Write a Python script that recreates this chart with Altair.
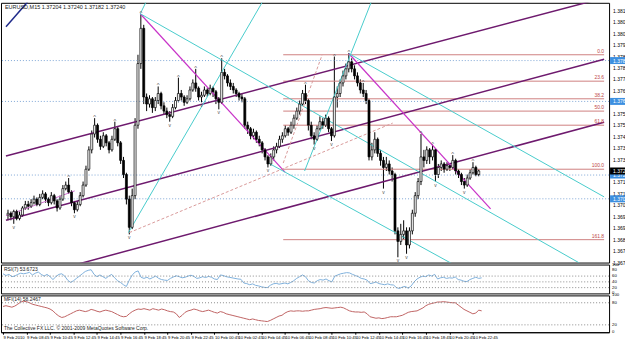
import json
import altair as alt
import pandas as pd
import numpy as np

# ---------------- data (prices in pips above BASE) ----------------
BASE = 1.3670

opens = [29,30,28,31,27,29,33,35,34,36, 38,35,39,41,38,36,40,37,33,38,
         44,46,42,36,32,35,40,46,55,66, 75,80,72,68,74,70,66,72,78,70,
         60,52,38,22,40,80,115,135,96,92, 95,90,94,98,91,88,86,85,90,94,
         98,96,93,95,100,104,101,96,97,100, 98,101,99,95,93,110,108,104,102,100,
         98,96,95,80,78,74,76,72,70,66, 62,58,62,66,68,72,74,78,76,80,
         84,88,92,98,94,80,74,72,78,82, 80,84,78,74,96,98,104,108,112,116,
         112,108,104,100,98,94,62,66,72,64, 60,56,58,54,52,20,14,18,20,12,
         20,30,40,48,62,60,66,62,66,52, 56,58,55,57,56,60,54,52,48,46,
         50,53,56,52]
closes = [30,28,31,27,29,33,35,34,36,38, 35,39,41,38,36,40,37,33,38,44,
          46,42,36,32,35,40,46,55,66,75, 80,72,68,74,70,66,72,78,70,60,
          52,38,22,40,80,115,135,96,92,95, 90,94,98,91,88,86,85,90,94,98,
          96,93,95,100,104,101,96,97,100,98, 101,99,95,93,110,108,104,102,100,98,
          96,95,80,78,74,76,72,70,66,62, 58,62,66,68,72,74,78,76,80,84,
          88,92,98,94,80,74,72,78,82,80, 84,78,74,96,98,104,108,112,116,112,
          108,104,100,98,94,62,66,72,64,60, 56,58,54,52,20,14,18,20,12,20,
          30,40,48,62,60,66,62,66,52,56, 58,55,57,56,60,54,52,48,46,50,
          53,56,52,54]
highs = [32,31,32,32,31,34,37,37,38,40, 39,41,43,42,39,42,41,38,40,46,
         48,50,43,37,37,42,48,57,68,77, 84,81,74,76,75,71,74,82,79,71,
         62,53,40,44,84,120,143,137,98,97, 96,96,102,99,93,90,88,92,96,107,
         100,97,97,102,106,112,102,99,102,101, 103,102,100,96,118,112,109,106,104,101,
         99,98,96,82,79,78,77,74,71,67, 63,64,68,70,74,76,80,79,82,86,
         90,94,100,103,95,82,76,80,85,84, 86,85,79,119,102,106,111,115,121,118,
         114,110,106,104,100,95,70,76,73,66, 62,62,60,56,53,22,24,26,22,22,
         32,42,50,75,66,68,67,69,67,58, 60,59,59,58,63,61,55,53,50,52,
         55,59,57,55]
lows = [26,26,24,26,26,28,32,32,33,35, 34,34,38,36,34,35,35,31,32,37,
        43,41,34,30,31,34,39,45,54,64, 73,70,66,67,68,64,65,71,68,58,
        50,35,18,21,38,78,112,92,88,90, 87,88,92,89,86,84,82,84,89,93,
        94,91,92,94,99,99,94,93,96,96, 97,96,92,89,92,106,102,100,98,96,
        94,93,78,75,72,72,70,68,64,60, 56,57,60,64,67,70,73,74,75,78,
        83,86,91,92,77,72,69,71,77,78, 79,76,71,73,90,96,102,106,110,110,
        106,102,98,96,92,60,60,64,62,57, 44,54,52,48,18,5,12,15,7,10,
        18,28,38,46,56,58,58,60,48,50, 54,53,54,54,55,52,50,46,44,45,
        49,52,51,51]

rsi = [68,62,66,58,60,66,70, 68,70,73,64,70,74,66, 60,66,58,48,58,66,68,
       60,46,38,44,52,60, 68,76,80,82,66,58,64, 58,52,60,66,54,44,38,
       30,24,46,64,74,78,56, 52,56,50,55,60,52,48,46,
       45,52,57,61,58,54,56,60,63,59, 52,54,58,55,59,56,50,48,
       64,62,58,56,54,52,50,49, 36,34,30,33,28,26,23,21,20,
       28,33,35,32,34,36,33,38,44, 52,58,64,58,44,38,36,
       44,48,46,50,44,40,60, 64,68,70,72,71,66,62,58,52,50,46,
       34,36,40,34,32,30,33,30,29, 20,17,22,24,18,26,
       40,50,56,60,58,64,60,66, 50,54,56,52,54,53,57,48, 46,42,41,48,52,56,52,54]
mfi = [70,72,70,68,71,76,82, 84,83,80,76,74,72,70, 68,66,63,58,50,44,40,
       42,46,50,54,58,60,58, 56,58,62,60,57,55,58, 60,58,56,52,48,44,42,
       43,50,56,60,63,62,64, 62,60,64,62,60,63,61, 58,56,55,50,40,46,54,
       58,60,63,61,58,56,58, 60,57,54,52,56,54,50, 48,46,44,42,40,38,36,
       34,36,34,32,31,30,29, 32,36,40,44,46,52,56, 58,57,58,58,57,58,58,
       60,62,63,64,66,67,66, 65,66,67,68,66,62,58, 56,55,55,54,55,50,42,
       40,38,39,37,38,40,42, 42,42,44,46,50,54,56, 57,58,62,66,72,76,78,
       80,82,82,83,82,81,80, 80,74,68,62,58,54,50, 52,60,58]

n = len(closes)
assert len(opens) == n and len(highs) == n and len(lows) == n
assert len(rsi) == n and len(mfi) == n

frac_up = [21,30,37,46,52,59,65,74,103,113,118,123,143,147,154,161]
frac_dn = [2,23,42,56,67,73,90,106,112,130,135,138,148,158]

time_labels = ["9 Feb 2010", "9 Feb 08:45", "9 Feb 10:45", "9 Feb 12:45", "9 Feb 14:45",
               "9 Feb 16:45", "9 Feb 18:45", "9 Feb 20:45", "9 Feb 22:45",
               "10 Feb 00:45", "10 Feb 02:45", "10 Feb 04:45", "10 Feb 06:45",
               "10 Feb 08:45", "10 Feb 10:45", "10 Feb 12:45", "10 Feb 14:45",
               "10 Feb 16:45", "10 Feb 18:45", "10 Feb 20:45", "10 Feb 22:45"]
time_tick_bars = [8 * k for k in range(len(time_labels))]

price_ticks_pips = [2 + 6.5 * k for k in range(23)]

# trend lines grouped by style: (bar1, pips1, bar2, pips2)
navy_lines = [(-0.7, 135.9, 6.8, 150.0)]
purple_lines = [(-0.7, 62.5, 206.4, 152.3), (-0.7, 26.0, 206.4, 117.5), (-0.7, -9.9, 206.4, 81.7)]
pink_lines = [(-0.7, 28.6, 23.1, 42.7)]
magenta_lines = [(45.8, 143.3, 95.9, 53.4), (118.0, 120.7, 167.1, 32.5)]
cyan_lines = [(45.8, 143.3, 206.4, -6.2), (118.0, 120.7, 206.4, 39.3), (90.2, 58.5, 206.4, -46.0),
              (45.8, 143.3, 47.8, 150.0), (41.7, 19.0, 88.1, 150.0), (102.7, 54.0, 125.8, 150.0)]
dashed_lines = [(42.0, 19.0, 133.2, 81.2), (95.3, 58.5, 108.8, 120.1)]

fib_pips = [120, 105, 95, 88, 80, 55, 15]
fib_names = ["0.0", "23.6", "38.2", "50.0", "61.8", "100.0", "161.8"]
fib_start_bar = 95.3

dotted_pips = [116.7, 93.5, 51.7, 38.2]
current_pips = [54]

rsi_levels = [20, 40, 60]
rsi_ticks = [0, 20, 40, 60, 80, 100]
mfi_levels = [20, 80]
mfi_ticks = [0, 20, 80, 100]

# ---------------- build ----------------
W = 611
XDOM = [-0.7, 206.4]
PDOM = [BASE + 2 / 1e4, BASE + 149.5 / 1e4]
FONT = "Liberation Sans"
NARROW = "Liberation Sans Narrow, Liberation Sans, sans-serif"


def px(p):
    return [float(BASE + v / 1e4) for v in p]


bars = list(range(n))
df = pd.DataFrame({"bar": bars, "o": px(opens), "h": px(highs), "l": px(lows), "c": px(closes)})

xs = alt.Scale(domain=XDOM, nice=False, zero=False)
ys = alt.Scale(domain=PDOM, nice=False, zero=False)


def X(f):
    return alt.X(f, scale=xs, axis=None)


def Y(f):
    return alt.Y(f, scale=ys, axis=None)


price_axis = alt.Axis(orient="right", values=px(price_ticks_pips), labels=False,
                      tickSize=3, title=None, grid=False)

wick = alt.Chart(df).mark_rule(color="black", strokeWidth=1).encode(
    x=X("bar:Q"), y=alt.Y("l:Q", scale=ys, axis=price_axis), y2="h:Q")
body = alt.Chart(df).mark_bar(size=2, stroke="black", strokeWidth=0.7).encode(
    x=X("bar:Q"), y=Y("o:Q"), y2="c:Q",
    fill=alt.condition(alt.datum.c >= alt.datum.o, alt.value("white"), alt.value("black")),
)

tick_df = pd.DataFrame({"p": px(price_ticks_pips)})
tick_df["lab"] = [f"{v:.5f}" for v in tick_df["p"]]
price_labels = alt.Chart(tick_df).mark_text(align="left", baseline="middle", fontSize=5,
                                            color="black", font=NARROW).encode(
    x=alt.value(W + 4), y=Y("p:Q"), text="lab:N")


def seg_layer(lines, **mark):
    d = pd.DataFrame({"x1": [a[0] for a in lines], "y1": px([a[1] for a in lines]),
                      "x2": [a[2] for a in lines], "y2": px([a[3] for a in lines])})
    return alt.Chart(d).mark_rule(clip=True, **mark).encode(
        x=X("x1:Q"), y=Y("y1:Q"), x2="x2:Q", y2="y2:Q")


seg_layers = [
    seg_layer(navy_lines, color="#1f2a8a", strokeWidth=1.5),
    seg_layer(purple_lines, color="#6e1a6e", strokeWidth=1.5),
    seg_layer(pink_lines, color="#d070d0", strokeWidth=1),
    seg_layer(magenta_lines, color="#c833c8", strokeWidth=1.2),
    seg_layer(cyan_lines, color="#48cccc", strokeWidth=1),
    seg_layer(dashed_lines, color="#d99a9a", strokeWidth=1, strokeDash=[3, 2]),
]

dotted = alt.Chart(pd.DataFrame({"p": px(dotted_pips)})).mark_rule(
    color="#7fa6d6", strokeDash=[1, 2], strokeWidth=1).encode(y=Y("p:Q"))

fib_df = pd.DataFrame({"p": px(fib_pips), "name": fib_names,
                       "x1": [fib_start_bar] * len(fib_pips), "x2": [XDOM[1]] * len(fib_pips)})
fib_lines = alt.Chart(fib_df).mark_rule(color="#cf8080", strokeWidth=1).encode(
    x=X("x1:Q"), x2="x2:Q", y=Y("p:Q"))
fib_text = alt.Chart(fib_df).mark_text(align="right", baseline="bottom", fontSize=5,
                                       color="#c04848", font=FONT, dy=-1).encode(
    x=alt.value(606), y=Y("p:Q"), text="name:N")

up_df = pd.DataFrame({"bar": frac_up, "p": px([highs[i] for i in frac_up])})
dn_df = pd.DataFrame({"bar": frac_dn, "p": px([lows[i] for i in frac_dn])})
up_txt = alt.Chart(up_df).mark_text(text="^", fontSize=6, color="#555555", baseline="bottom", dy=2,
                                    font=FONT).encode(x=X("bar:Q"), y=Y("p:Q"))
dn_txt = alt.Chart(dn_df).mark_text(text="v", fontSize=5, color="#555555", baseline="top", dy=1,
                                    font=FONT).encode(x=X("bar:Q"), y=Y("p:Q"))


def hl_layers(pips, bg):
    d = pd.DataFrame({"p": px(pips)})
    d["lab"] = [f"{v:.5f}" for v in d["p"]]
    r = alt.Chart(d).mark_tick(orient="horizontal", thickness=7, size=22, color=bg, opacity=1).encode(
        x=alt.value(W + 12), y=Y("p:Q"))
    t = alt.Chart(d).mark_text(align="left", baseline="middle", fontSize=5, color="white",
                               font=NARROW).encode(x=alt.value(W + 4), y=Y("p:Q"), text="lab:N")
    return [r, t]


header = alt.Chart(pd.DataFrame({"t": ["EURUSD,M15  1.37204 1.37240 1.37182 1.37240"]})).mark_text(
    align="left", baseline="top", fontSize=5.5, color="#222222", font=FONT).encode(
    x=alt.value(4), y=alt.value(2), text="t:N")

main = alt.layer(wick, dotted, fib_lines, *seg_layers, body, up_txt, dn_txt, fib_text, price_labels,
                 *hl_layers(dotted_pips, "#3d8fe0"), *hl_layers(current_pips, "#000000"),
                 header).properties(width=W, height=261)

# indicator panels
rs = alt.Scale(domain=[0, 100], nice=False)


def ind_axis(vals):
    return alt.Axis(orient="right", values=vals, labels=False, tickSize=2, title=None, grid=False)


def ind_labels(vals):
    d = pd.DataFrame({"v": vals, "lab": [str(v) for v in vals]})
    return alt.Chart(d).mark_text(align="left", baseline="middle", fontSize=4.3, color="black",
                                  font=NARROW).encode(
        x=alt.value(W + 3), y=alt.Y("v:Q", scale=rs, axis=None), text="lab:N")


rsi_df = pd.DataFrame({"bar": bars, "v": rsi})
rsi_line = alt.Chart(rsi_df).mark_line(color="#7fb0dc", strokeWidth=1).encode(
    x=X("bar:Q"), y=alt.Y("v:Q", scale=rs, axis=ind_axis(rsi_ticks)))
rsi_lv = alt.Chart(pd.DataFrame({"v": rsi_levels})).mark_rule(
    color="#8a8a8a", strokeDash=[1, 2]).encode(y=alt.Y("v:Q", scale=rs, axis=None))
rsi_lab = alt.Chart(pd.DataFrame({"t": ["RSI(7) 53.6723"]})).mark_text(
    align="left", baseline="top", fontSize=5, color="#222222", font=FONT).encode(
    x=alt.value(3), y=alt.value(2), text="t:N")
rsi_chart = alt.layer(rsi_line, rsi_lv, rsi_lab, ind_labels(rsi_ticks)).properties(width=W, height=29)

mfi_df = pd.DataFrame({"bar": bars, "v": mfi})
label_expr = json.dumps(time_labels) + "[round(datum.value / 8)]"
x_axis = alt.Axis(values=time_tick_bars, labelExpr=label_expr, labelAlign="left", labelFontSize=4.2,
                  labelFont=NARROW, tickSize=2, labelPadding=1, title=None, labelOverlap=False,
                  labelFlush=False, grid=False)
mfi_line = alt.Chart(mfi_df).mark_line(color="#c06464", strokeWidth=1).encode(
    x=alt.X("bar:Q", scale=xs, axis=x_axis),
    y=alt.Y("v:Q", scale=rs, axis=ind_axis(mfi_ticks)))
mfi_lv = alt.Chart(pd.DataFrame({"v": mfi_levels})).mark_rule(
    color="#8a8a8a", strokeDash=[1, 2]).encode(y=alt.Y("v:Q", scale=rs, axis=None))
mfi_lab = alt.Chart(pd.DataFrame({"t": ["MFI(14) 58.2467"]})).mark_text(
    align="left", baseline="top", fontSize=5, color="#222222", font=FONT).encode(
    x=alt.value(3), y=alt.value(2), text="t:N")
copy_lab = alt.Chart(pd.DataFrame({"t": ["The Collective FX LLC. \u00a9 2001-2009 MetaQuotes Software Corp."]})).mark_text(
    align="left", baseline="bottom", fontSize=5, color="#222222", font=FONT).encode(
    x=alt.value(3), y=alt.value(36), text="t:N")
mfi_chart = alt.layer(mfi_line, mfi_lv, mfi_lab, copy_lab, ind_labels(mfi_ticks)).properties(width=W, height=37)

chart = alt.vconcat(main, rsi_chart, mfi_chart, spacing=2, bounds="flush").properties(
    padding={"left": 0, "right": -8, "top": 1, "bottom": 0}, background="white"
).configure_axis(
    labelColor="black", domainColor="black", tickColor="black"
).configure_view(stroke="black", strokeWidth=1)

chart.save("out.html", embed_options={"renderer": "svg", "actions": False})
